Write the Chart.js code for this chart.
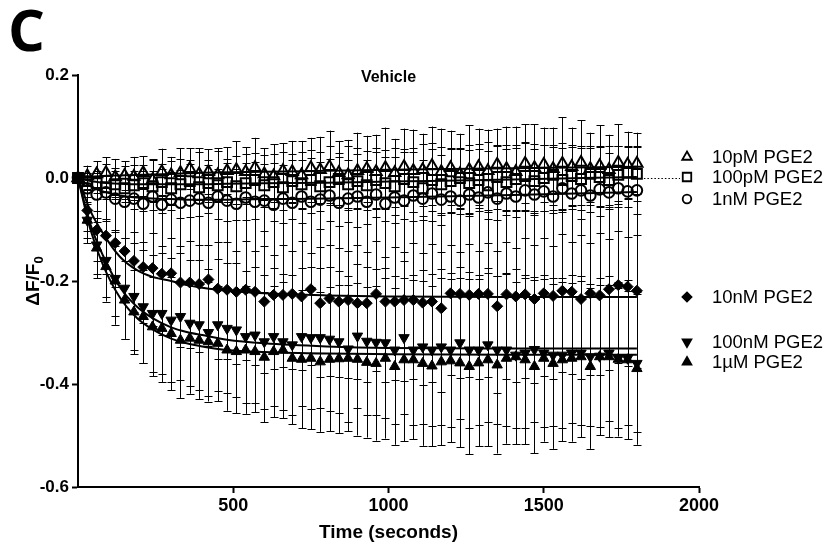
<!DOCTYPE html>
<html>
<head>
<meta charset="utf-8">
<script src="https://cdn.jsdelivr.net/npm/chart.js@4.4.0/dist/chart.umd.min.js"></script>
<style>
  html, body { margin: 0; padding: 0; background: #fff; }
</style>
</head>
<body>
<canvas id="chart" width="832" height="550"></canvas>
<script>
// Time points (seconds)
const times = [0, 30, 60, 90, 120, 150, 180, 210, 240, 270,
  300, 330, 360, 390, 420, 450, 480, 510, 540, 570,
  600, 630, 660, 690, 720, 750, 780, 810, 840, 870,
  900, 930, 960, 990, 1020, 1050, 1080, 1110, 1140, 1170,
  1200, 1230, 1260, 1290, 1320, 1350, 1380, 1410, 1440, 1470,
  1500, 1530, 1560, 1590, 1620, 1650, 1680, 1710, 1740, 1770,
  1800];

// dF/F0 means
const pge10pM = [0, 0.004, 0.008, 0.010, 0.002, 0.005, 0.003, 0.010, -0.004, 0.012,
  0.006, 0.010, 0.018, 0.008, 0.012, 0.006, 0.014, 0.016, 0.012, 0.020,
  0.008, 0.004, 0.014, 0.012, 0.006, 0.020, 0.016, 0.022, 0.010, 0.006,
  0.014, 0.018, 0.012, 0.020, 0.010, 0.022, 0.014, 0.016, 0.024, 0.012,
  0.020, 0.008, 0.016, 0.022, 0.014, 0.026, 0.018, 0.012, 0.028, 0.020,
  0.026, 0.018, 0.028, 0.022, 0.030, 0.018, 0.024, 0.016, 0.030, 0.026,
  0.028];
const pge100pM = [0, -0.006, -0.010, -0.018, -0.012, -0.020, -0.014, -0.010, -0.016, -0.008,
  -0.020, -0.012, -0.006, -0.018, -0.010, -0.014, -0.008, -0.016, -0.010, -0.004,
  -0.014, -0.008, -0.018, -0.006, -0.012, -0.004, -0.016, -0.008, -0.002, -0.012,
  -0.006, -0.014, -0.004, -0.010, -0.016, -0.002, -0.008, -0.020, -0.004, -0.012,
  -0.006, 0.000, -0.010, -0.004, -0.014, 0.002, -0.008, -0.002, 0.004, -0.006,
  0.000, 0.006, -0.004, 0.004, -0.002, 0.008, 0.002, -0.004, 0.006, 0.010,
  0.008];
const pge1nM = [0, -0.020, -0.032, -0.028, -0.040, -0.046, -0.040, -0.050, -0.036, -0.052,
  -0.042, -0.048, -0.044, -0.040, -0.048, -0.036, -0.044, -0.050, -0.038, -0.046,
  -0.044, -0.052, -0.040, -0.048, -0.036, -0.046, -0.042, -0.034, -0.048, -0.040,
  -0.036, -0.046, -0.032, -0.050, -0.038, -0.044, -0.034, -0.040, -0.030, -0.042,
  -0.036, -0.044, -0.032, -0.038, -0.028, -0.040, -0.030, -0.036, -0.024, -0.032,
  -0.026, -0.036, -0.020, -0.030, -0.024, -0.034, -0.022, -0.028, -0.020, -0.026,
  -0.024];
const pge10nM = [0, -0.063, -0.101, -0.112, -0.126, -0.142, -0.161, -0.173, -0.175, -0.186,
  -0.185, -0.203, -0.203, -0.206, -0.197, -0.215, -0.217, -0.221, -0.217, -0.221,
  -0.240, -0.227, -0.227, -0.225, -0.230, -0.216, -0.243, -0.234, -0.240, -0.237,
  -0.243, -0.243, -0.225, -0.240, -0.240, -0.237, -0.237, -0.242, -0.240, -0.253,
  -0.224, -0.225, -0.227, -0.225, -0.225, -0.249, -0.226, -0.230, -0.226, -0.235,
  -0.224, -0.229, -0.219, -0.221, -0.235, -0.224, -0.228, -0.216, -0.208, -0.211,
  -0.219];
const pge100nM = [0, -0.082, -0.130, -0.160, -0.195, -0.214, -0.230, -0.250, -0.263, -0.263,
  -0.276, -0.269, -0.282, -0.285, -0.300, -0.285, -0.292, -0.295, -0.308, -0.305,
  -0.318, -0.308, -0.318, -0.324, -0.308, -0.310, -0.310, -0.313, -0.318, -0.332,
  -0.307, -0.317, -0.319, -0.320, -0.334, -0.310, -0.334, -0.328, -0.334, -0.328,
  -0.334, -0.320, -0.334, -0.334, -0.324, -0.334, -0.334, -0.344, -0.340, -0.333,
  -0.340, -0.344, -0.344, -0.340, -0.340, -0.347, -0.346, -0.340, -0.350, -0.350,
  -0.360];
const pge1uM = [0, -0.082, -0.136, -0.172, -0.200, -0.237, -0.260, -0.269, -0.289, -0.292,
  -0.302, -0.315, -0.311, -0.315, -0.318, -0.321, -0.334, -0.337, -0.334, -0.337,
  -0.348, -0.337, -0.334, -0.350, -0.352, -0.350, -0.357, -0.352, -0.351, -0.350,
  -0.352, -0.358, -0.360, -0.350, -0.366, -0.353, -0.353, -0.360, -0.365, -0.357,
  -0.355, -0.359, -0.366, -0.359, -0.353, -0.363, -0.350, -0.347, -0.353, -0.366,
  -0.350, -0.360, -0.353, -0.350, -0.347, -0.366, -0.347, -0.347, -0.352, -0.353,
  -0.370];

// SEM for each point
const err10pM = [0, 0.020, 0.025, 0.030, 0.035, 0.028, 0.038, 0.032, 0.040, 0.045,
  0.035, 0.048, 0.040, 0.050, 0.044, 0.052, 0.046, 0.055, 0.048, 0.058,
  0.050, 0.062, 0.054, 0.060, 0.066, 0.058, 0.064, 0.070, 0.062, 0.068,
  0.074, 0.064, 0.072, 0.078, 0.066, 0.074, 0.080, 0.070, 0.076, 0.084,
  0.072, 0.078, 0.086, 0.074, 0.080, 0.070, 0.082, 0.088, 0.076, 0.084,
  0.072, 0.080, 0.090, 0.076, 0.082, 0.070, 0.078, 0.068, 0.074, 0.064,
  0.060];
const err100pM = [0, 0.015, 0.020, 0.022, 0.025, 0.020, 0.028, 0.024, 0.030, 0.026,
  0.032, 0.028, 0.034, 0.030, 0.036, 0.032, 0.038, 0.034, 0.040, 0.036,
  0.042, 0.038, 0.044, 0.040, 0.046, 0.042, 0.048, 0.044, 0.050, 0.046,
  0.052, 0.048, 0.054, 0.050, 0.056, 0.052, 0.058, 0.054, 0.060, 0.056,
  0.062, 0.058, 0.064, 0.060, 0.066, 0.062, 0.064, 0.060, 0.066, 0.062,
  0.064, 0.058, 0.062, 0.056, 0.060, 0.054, 0.058, 0.052, 0.056, 0.050,
  0.052];
const err1nM = [0, 0.030, 0.045, 0.055, 0.060, 0.070, 0.065, 0.075, 0.070, 0.080,
  0.075, 0.085, 0.078, 0.090, 0.082, 0.088, 0.080, 0.092, 0.085, 0.095,
  0.088, 0.098, 0.090, 0.094, 0.086, 0.100, 0.092, 0.096, 0.088, 0.102,
  0.094, 0.098, 0.090, 0.104, 0.096, 0.100, 0.092, 0.106, 0.098, 0.102,
  0.094, 0.100, 0.096, 0.104, 0.098, 0.102, 0.094, 0.100, 0.092, 0.098,
  0.090, 0.096, 0.088, 0.094, 0.086, 0.092, 0.084, 0.090, 0.082, 0.088,
  0.086];
const err10nM = [0, 0.040, 0.060, 0.075, 0.085, 0.095, 0.100, 0.108, 0.112, 0.118,
  0.122, 0.126, 0.128, 0.132, 0.130, 0.136, 0.134, 0.140, 0.136, 0.142,
  0.138, 0.144, 0.140, 0.146, 0.142, 0.148, 0.144, 0.150, 0.146, 0.152,
  0.148, 0.154, 0.150, 0.156, 0.152, 0.158, 0.154, 0.160, 0.156, 0.162,
  0.158, 0.164, 0.160, 0.166, 0.162, 0.168, 0.164, 0.166, 0.162, 0.164,
  0.160, 0.162, 0.158, 0.160, 0.156, 0.158, 0.154, 0.156, 0.152, 0.154,
  0.150];
const err100nM = [0, 0.045, 0.065, 0.080, 0.090, 0.098, 0.104, 0.110, 0.114, 0.118,
  0.120, 0.124, 0.122, 0.126, 0.124, 0.128, 0.126, 0.130, 0.128, 0.132,
  0.130, 0.134, 0.132, 0.136, 0.134, 0.138, 0.136, 0.140, 0.138, 0.142,
  0.140, 0.144, 0.142, 0.146, 0.144, 0.148, 0.146, 0.150, 0.148, 0.152,
  0.150, 0.148, 0.152, 0.146, 0.150, 0.144, 0.148, 0.142, 0.146, 0.140,
  0.144, 0.138, 0.142, 0.136, 0.140, 0.134, 0.138, 0.132, 0.136, 0.130,
  0.134];
const err1uM = [0, 0.035, 0.050, 0.060, 0.068, 0.075, 0.082, 0.090, 0.096, 0.104,
  0.110, 0.112, 0.108, 0.114, 0.116, 0.112, 0.118, 0.120, 0.124, 0.118,
  0.126, 0.128, 0.132, 0.128, 0.134, 0.138, 0.136, 0.140, 0.144, 0.142,
  0.148, 0.146, 0.150, 0.156, 0.152, 0.158, 0.154, 0.160, 0.156, 0.162,
  0.158, 0.164, 0.170, 0.162, 0.168, 0.172, 0.166, 0.170, 0.164, 0.168,
  0.162, 0.166, 0.158, 0.162, 0.156, 0.160, 0.152, 0.156, 0.150, 0.154,
  0.148];

const fitTimes = [0, 40, 80, 135, 190, 240, 300, 350, 400, 480, 600, 800, 1000, 1400, 1800];
const fit10pM = [0, 0.002, 0.004, 0.005, 0.006, 0.007, 0.008, 0.009, 0.010, 0.011, 0.012, 0.014, 0.016, 0.019, 0.022];
const fit100pM = [0, -0.006, -0.009, -0.011, -0.012, -0.012, -0.012, -0.012, -0.012, -0.011, -0.010, -0.009, -0.007, -0.003, 0.002];
const fit1nM = [0, -0.016, -0.026, -0.034, -0.038, -0.040, -0.041, -0.042, -0.042, -0.042, -0.041, -0.040, -0.038, -0.033, -0.027];
const fit10nM = [0, -0.064, -0.107, -0.153, -0.179, -0.192, -0.200, -0.208, -0.213, -0.219, -0.224, -0.228, -0.230, -0.231, -0.231];
const fit100nM = [0, -0.090, -0.150, -0.212, -0.250, -0.272, -0.290, -0.299, -0.305, -0.314, -0.321, -0.327, -0.330, -0.331, -0.331];
const fit1uM = [0, -0.100, -0.168, -0.232, -0.272, -0.294, -0.312, -0.321, -0.327, -0.334, -0.338, -0.341, -0.342, -0.343, -0.343];

const yTicks = [-0.6, -0.4, -0.2, 0.0, 0.2];
const xTicks = [500, 1000, 1500, 2000];
const labels = ['10pM PGE2', '100pM PGE2', '1nM PGE2', '10nM PGE2', '100nM PGE2', '1µM PGE2'];

const FONT = "'Liberation Sans', Arial, sans-serif";
Chart.defaults.font.family = FONT;
Chart.defaults.color = '#000';

const series = [
  { label: labels[0], data: pge10pM, err: err10pM, fit: fit10pM, style: 'triangle', rot: 0, r: 6.5, filled: false, legendY: 157 },
  { label: labels[1], data: pge100pM, err: err100pM, fit: fit100pM, style: 'rect', rot: 0, r: 7, filled: false, legendY: 177 },
  { label: labels[2], data: pge1nM, err: err1nM, fit: fit1nM, style: 'circle', rot: 0, r: 5.3, filled: false, legendY: 199 },
  { label: labels[3], data: pge10nM, err: err10nM, fit: fit10nM, style: 'rectRot', rot: 0, r: 5.5, filled: true, legendY: 297 },
  { label: labels[4], data: pge100nM, err: err100nM, fit: fit100nM, style: 'triangle', rot: 180, r: 6, filled: true, legendY: 342 },
  { label: labels[5], data: pge1uM, err: err1uM, fit: fit1uM, style: 'triangle', rot: 0, r: 6, filled: true, legendY: 362 }
];

const datasets = [];
series.forEach(s => {
  datasets.push({
    label: s.label + ' fit',
    data: fitTimes.map((t, i) => ({ x: t, y: s.fit[i] })),
    showLine: true,
    borderColor: '#000',
    borderWidth: 2,
    pointRadius: 0,
    cubicInterpolationMode: 'monotone',
    order: 10,
    clip: false
  });
  datasets.push({
    label: s.label,
    data: times.map((t, i) => ({ x: t, y: s.data[i] })),
    err: s.err,
    showLine: false,
    pointStyle: s.style,
    rotation: s.rot,
    pointRadius: s.r,
    pointHoverRadius: s.r,
    borderColor: '#000',
    borderWidth: s.filled ? 1 : 2,
    backgroundColor: s.filled ? '#000' : 'rgba(0,0,0,0)',
    order: 0,
    clip: false
  });
});

// error bars drawn under the symbols
const errorBars = {
  id: 'errorBars',
  beforeDatasetsDraw(chart) {
    const ctx = chart.ctx;
    const xs = chart.scales.x, ys = chart.scales.y;
    ctx.save();
    ctx.strokeStyle = '#000';
    ctx.lineWidth = 1;
    chart.data.datasets.forEach(ds => {
      if (!ds.err) return;
      ds.data.forEach((p, i) => {
        const e = ds.err[i];
        if (!e) return;
        const px = Math.round(xs.getPixelForValue(p.x)) + 0.5;
        const top = ys.getPixelForValue(p.y + e);
        const bot = ys.getPixelForValue(p.y - e);
        ctx.beginPath();
        ctx.moveTo(px, top); ctx.lineTo(px, bot);
        ctx.moveTo(px - 4, Math.round(top) + 0.5); ctx.lineTo(px + 4, Math.round(top) + 0.5);
        ctx.moveTo(px - 4, Math.round(bot) + 0.5); ctx.lineTo(px + 4, Math.round(bot) + 0.5);
        ctx.stroke();
      });
    });
    ctx.restore();
  }
};

// titles, y label with subscript, legend
const decorations = {
  id: 'decorations',
  afterDraw(chart) {
    const ctx = chart.ctx;
    const xs = chart.scales.x, ys = chart.scales.y;
    ctx.save();
    ctx.fillStyle = '#000';

    ctx.font = "bold 58px 'Open Sans', " + FONT;
    ctx.textAlign = 'left';
    ctx.textBaseline = 'alphabetic';
    ctx.fillText('C', 8, 51);

    ctx.font = 'bold 16px ' + FONT;
    ctx.textAlign = 'center';
    ctx.textBaseline = 'middle';
    ctx.fillText('Vehicle', (chart.chartArea.left + chart.chartArea.right) / 2, 78);

    // y axis title: ΔF/F0
    ctx.save();
    ctx.translate(33, (chart.chartArea.top + chart.chartArea.bottom) / 2);
    ctx.rotate(-Math.PI / 2);
    const main = 'ΔF/F';
    ctx.font = 'bold 19px ' + FONT;
    const w1 = ctx.measureText(main).width;
    ctx.font = 'bold 13px ' + FONT;
    const w2 = ctx.measureText('0').width;
    const x0 = -(w1 + w2) / 2;
    ctx.textAlign = 'left';
    ctx.textBaseline = 'alphabetic';
    ctx.font = 'bold 19px ' + FONT;
    ctx.fillText(main, x0, 6);
    ctx.font = 'bold 13px ' + FONT;
    ctx.fillText('0', x0 + w1, 10);
    ctx.restore();

    // legend
    const lx = 687, tx = 712;
    series.forEach(s => {
      ctx.fillStyle = s.filled ? '#000' : 'rgba(0,0,0,0)';
      ctx.strokeStyle = '#000';
      ctx.lineWidth = 1.8;
      Chart.helpers.drawPoint(ctx, { pointStyle: s.style, rotation: s.rot, radius: s.r - 1, borderWidth: 1.8 }, lx, s.legendY);
      ctx.fillStyle = '#000';
      ctx.font = '18.5px ' + FONT;
      ctx.textAlign = 'left';
      ctx.textBaseline = 'middle';
      ctx.fillText(s.label, tx, s.legendY + 1);
    });

    // dotted zero line running to the legend
    const y0 = Math.round(ys.getPixelForValue(0)) + 0.5;
    ctx.strokeStyle = '#000';
    ctx.lineWidth = 1.2;
    ctx.setLineDash([1.5, 2]);
    ctx.beginPath();
    ctx.moveTo(xs.getPixelForValue(1800) + 7, y0);
    ctx.lineTo(lx - 7, y0);
    ctx.stroke();
    ctx.restore();
  }
};

new Chart(document.getElementById('chart'), {
  type: 'scatter',
  data: { datasets },
  options: {
    responsive: false,
    animation: false,
    events: [],
    layout: { padding: { left: 0, right: 133, top: 75, bottom: 0 } },
    plugins: { legend: { display: false }, tooltip: { enabled: false } },
    scales: {
      x: {
        type: 'linear',
        min: 0,
        max: 2000,
        afterFit: s => { s.height = 63; },
        afterBuildTicks: s => { s.ticks = xTicks.map(v => ({ value: v })); },
        border: { color: '#000', width: 2 },
        grid: { drawOnChartArea: false, drawTicks: true, tickLength: 6, tickColor: '#000', tickWidth: 2 },
        ticks: { font: { size: 18, weight: 'bold' }, color: '#000', padding: 2, maxRotation: 0, callback: v => String(v) },
        title: { display: true, text: 'Time (seconds)', font: { size: 19, weight: 'bold' }, color: '#000', padding: { top: 0, bottom: 6 } }
      },
      y: {
        type: 'linear',
        min: -0.6,
        max: 0.2,
        afterFit: s => { s.width = 78; },
        afterBuildTicks: s => { s.ticks = yTicks.map(v => ({ value: v })); },
        border: { color: '#000', width: 2 },
        grid: { drawOnChartArea: false, drawTicks: true, tickLength: 6, tickColor: '#000', tickWidth: 2 },
        ticks: { font: { size: 17, weight: 'bold' }, color: '#000', padding: 3, callback: v => v.toFixed(1) }
      }
    }
  },
  plugins: [errorBars, decorations]
});
</script>
</body>
</html>
